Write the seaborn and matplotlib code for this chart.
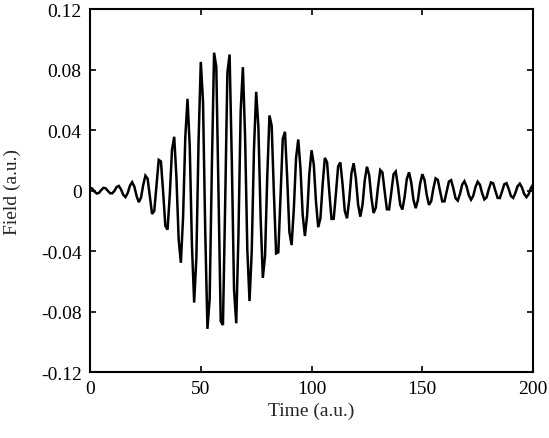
import numpy as np
import pandas as pd
import matplotlib
matplotlib.use("Agg")
import matplotlib.pyplot as plt
import seaborn as sns

# time axis (a.u.), one sample per unit
time = list(range(0, 201))

# field samples (a.u.)
field = [
    0.0020, 0.0013, -0.0006, -0.0019, -0.0015, 0.0003, 0.0018, 0.0016, -0.0001, -0.0017,
    -0.0018, -0.0002, 0.0024, 0.0031, 0.0008, -0.0028, -0.0043, -0.0016, 0.0032, 0.0056,
    0.0027, -0.0035, -0.0076, -0.0047, 0.0037, 0.0099, 0.0079, -0.0040, -0.0154, -0.0134,
    0.0033, 0.0203, 0.0193, -0.0010, -0.0233, -0.0258, -0.0028, 0.0270, 0.0356, 0.0087,
    -0.0320, -0.0477, -0.0176, 0.0352, 0.0607, 0.0296, -0.0361, -0.0740, -0.0444, 0.0332,
    0.0851, 0.0590, -0.0266, -0.0914, -0.0715, 0.0160, 0.0912, 0.0817, -0.0038, -0.0864,
    -0.0888, -0.0086, 0.0779, 0.0900, 0.0198, -0.0655, -0.0877, -0.0289, 0.0525, 0.0816,
    0.0354, -0.0391, -0.0730, -0.0399, 0.0272, 0.0653, 0.0420, -0.0177, -0.0577, -0.0432,
    0.0091, 0.0497, 0.0428, -0.0019, -0.0415, -0.0408, -0.0039, 0.0342, 0.0389, 0.0084,
    -0.0274, -0.0360, -0.0120, 0.0216, 0.0338, 0.0146, -0.0161, -0.0300, -0.0163, 0.0112,
    0.0267, 0.0173, -0.0074, -0.0242, -0.0183, 0.0039, 0.0216, 0.0188, -0.0008, -0.0187,
    -0.0186, -0.0018, 0.0161, 0.0186, 0.0041, -0.0135, -0.0183, -0.0062, 0.0114, 0.0181,
    0.0081, -0.0091, -0.0172, -0.0094, 0.0066, 0.0158, 0.0104, -0.0045, -0.0148, -0.0113,
    0.0024, 0.0136, 0.0120, -0.0005, -0.0123, -0.0124, -0.0012, 0.0108, 0.0126, 0.0028,
    -0.0093, -0.0125, -0.0042, 0.0077, 0.0121, 0.0054, -0.0061, -0.0116, -0.0064, 0.0045,
    0.0109, 0.0070, -0.0029, -0.0094, -0.0070, 0.0015, 0.0081, 0.0071, -0.0003, -0.0071,
    -0.0071, -0.0007, 0.0060, 0.0069, 0.0015, -0.0050, -0.0066, -0.0022, 0.0040, 0.0062,
    0.0027, -0.0031, -0.0060, -0.0034, 0.0024, 0.0059, 0.0039, -0.0017, -0.0058, -0.0045,
    0.0010, 0.0054, 0.0048, -0.0002, -0.0048, -0.0049, -0.0005, 0.0042, 0.0049, 0.0011,
    -0.0036, -0.0048, -0.0016, 0.0029, 0.0046, 0.0020, -0.0023, -0.0043, -0.0024, 0.0016,
    0.0040,
]

x_ticks = [0, 50, 100, 150, 200]
y_ticks = [-0.12, -0.08, -0.04, 0, 0.04, 0.08, 0.12]
y_tick_labels = ["-0.12", "-0.08", "-0.04", "0", "0.04", "0.08", "0.12"]

df = pd.DataFrame({"Time": time, "Field": field})

sns.set_style("ticks")
plt.rcParams["font.family"] = ["Liberation Serif", "DejaVu Serif"]

fig = plt.figure(figsize=(5.49, 4.39), dpi=100)
ax = fig.add_axes([0.164, 0.150, 0.807, 0.827])

sns.lineplot(data=df, x="Time", y="Field", color="black", linewidth=1.8, ax=ax)
for ln in ax.get_lines():
    ln.set_solid_joinstyle("miter")

ax.set_xlim(0, 200)
ax.set_ylim(-0.12, 0.12)
ax.set_xticks(x_ticks)
ax.set_xticklabels([str(v) for v in x_ticks])
ax.set_yticks(y_ticks)
ax.set_yticklabels(y_tick_labels)
ax.tick_params(direction="in", top=True, right=True, length=4, width=1.2,
               labelsize=14, colors="black", pad=6)
for s in ax.spines.values():
    s.set_linewidth(1.5)
    s.set_color("black")

ax.set_xlabel("Time (a.u.)", fontsize=14, labelpad=3)
ax.set_ylabel("Field (a.u.)", fontsize=14, labelpad=14)

fig.savefig("out.png", dpi=100)
